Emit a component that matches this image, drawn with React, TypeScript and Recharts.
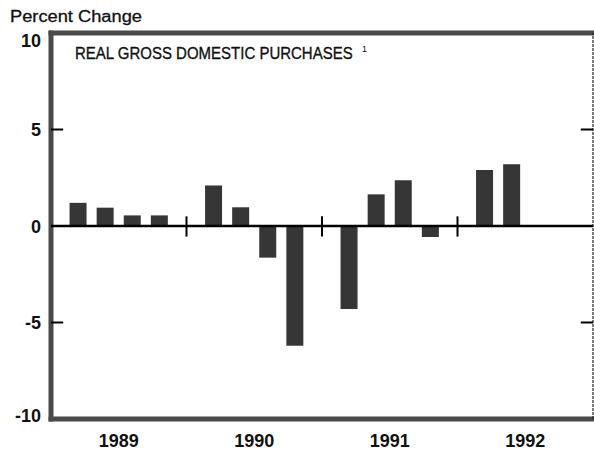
import { BarChart, Bar, XAxis, YAxis, ReferenceLine } from 'recharts';

// quarterly % change, real gross domestic purchases (1989Q1 .. 1992Q2)
const years = ['1989', '1990', '1991', '1992'];
const quarters = ['Q1', 'Q2', 'Q3', 'Q4'];
const changes = [1.2, 0.95, 0.55, 0.55, 2.1, 0.97, -1.64, -6.2, -4.3, 1.64, 2.37, -0.57, 2.9, 3.2];
const yTicks = [-10, -5, 0, 5, 10];

// each year gets 5 units on the x axis, quarters sit at 1..4 inside it
const SLOTS = 5;
const data = changes.map((value, i) => ({
  pos: SLOTS * Math.floor(i / quarters.length) + (i % quarters.length) + 1,
  value,
}));
const yearCenters = years.map((_, i) => SLOTS * i + SLOTS / 2);
const yearBreaks = years.slice(1).map((_, i) => SLOTS * (i + 1));
const xMax = SLOTS * years.length;

const FONT = '"Liberation Sans", Arial, Helvetica, sans-serif';
const FRAME = '#4a4a4a';
const BAR = '#363636';

const YTick = ({ y, payload }: any) => {
  const v = payload.value;
  // extreme labels are nudged inward in the original
  const nudge = v === 10 ? 7 : v === -10 ? -3.5 : 0;
  return (
    <text x={41} y={y + 6.5 + nudge} textAnchor="end" fontSize={18} fontWeight="bold" fill="#111" fontFamily={FONT}>
      {v}
    </text>
  );
};

const XTick = ({ x, y, payload }: any) => {
  const idx = yearCenters.indexOf(payload.value);
  return (
    <text x={x} y={y + 20} textAnchor="middle" fontSize={18} fontWeight="bold" fill="#111" fontFamily={FONT}>
      {years[idx]}
    </text>
  );
};

export default function App() {
  return (
    <div style={{ position: 'absolute', left: 0, top: 0, width: 594, height: 455, background: '#fff' }}>
      <BarChart
        width={594}
        height={455}
        data={data}
        margin={{ top: 33, right: 1, bottom: 0, left: 0 }}
      >
        <XAxis
          type="number"
          dataKey="pos"
          domain={[0, xMax]}
          ticks={yearCenters}
          tick={<XTick />}
          tickLine={false}
          axisLine={false}
          height={36}
          allowDataOverflow
        />
        <YAxis
          type="number"
          domain={[-10, 10]}
          ticks={yTicks}
          tick={<YTick />}
          tickLine={false}
          axisLine={false}
          width={51}
          allowDataOverflow
        />
        <Bar dataKey="value" fill={BAR} barSize={17} isAnimationActive={false} />
        {/* frame: heavy left/top/bottom, thin dotted right */}
        <ReferenceLine x={0} stroke={FRAME} strokeWidth={5} strokeLinecap="square" />
        <ReferenceLine y={10} stroke={FRAME} strokeWidth={5} strokeLinecap="square" />
        <ReferenceLine y={-10} stroke={FRAME} strokeWidth={5} strokeLinecap="square" />
        <ReferenceLine x={xMax} stroke="#222" strokeWidth={1.2} strokeDasharray="3 1" />
        <ReferenceLine y={0} stroke="#000" strokeWidth={2.5} />
        {yearBreaks.map((b) => (
          <ReferenceLine key={b} segment={[{ x: b, y: -0.55 }, { x: b, y: 0.5 }]} stroke="#000" strokeWidth={2} />
        ))}
        {[5, -5].map((t) => (
          <ReferenceLine key={`l${t}`} segment={[{ x: 0, y: t }, { x: 0.45, y: t }]} stroke="#000" strokeWidth={2} />
        ))}
        {[5, -5].map((t) => (
          <ReferenceLine key={`r${t}`} segment={[{ x: xMax - 0.45, y: t }, { x: xMax, y: t }]} stroke="#000" strokeWidth={2} />
        ))}
      </BarChart>
      <svg width={594} height={455} style={{ position: 'absolute', left: 0, top: 0, pointerEvents: 'none' }}>
        <text x={10} y={21.7} fontSize={16} fill="#111" stroke="#111" strokeWidth={0.3} fontFamily={FONT} textLength={132} lengthAdjust="spacingAndGlyphs">
          Percent Change
        </text>
        {/* condensed title: narrower font, stretched vertically */}
        <text transform="translate(75 59.3) scale(1 1.15)" fontSize={15} fill="#111" stroke="#111" strokeWidth={0.3} fontFamily={FONT}>
          REAL GROSS DOMESTIC PURCHASES
        </text>
        <text x={362} y={52} fontSize={9} fill="#111" fontFamily={FONT}>
          1
        </text>
      </svg>
    </div>
  );
}
